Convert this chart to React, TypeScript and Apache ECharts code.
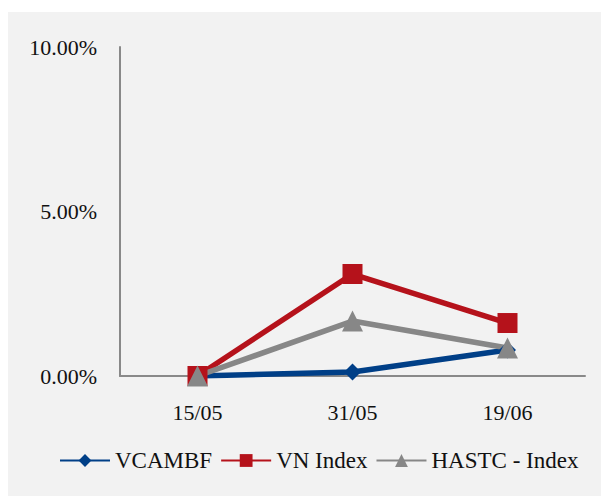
import React, { useEffect, useRef } from "react";
import * as echarts from "echarts";

const categories = ["15/05", "31/05", "19/06"];
const vcambf = [0, 0.12, 0.79];
const vnIndex = [0, 3.1, 1.61];
const hastc = [0, 1.67, 0.85];
const seriesNames = ["VCAMBF", "VN Index", "HASTC - Index"];

const FONT = "Liberation Serif";

export default function App() {
  const ref = useRef<HTMLDivElement>(null);
  useEffect(() => {
    if (!ref.current) return;
    const chart = echarts.init(ref.current, undefined, { renderer: "svg" });
    const mk = (name: string, data: number[], color: string, symbol: string, size: number) => ({
      name,
      type: "line",
      data,
      symbol,
      symbolSize: size,
      lineStyle: { color, width: 5.5 },
      itemStyle: { color },
      emphasis: { disabled: true },
    });
    chart.setOption({
      animation: false,
      backgroundColor: "#f2f2f2",
      textStyle: { fontFamily: FONT },
      grid: { left: 112, right: 16, top: 35, bottom: 120 },
      legend: {
        bottom: 19,
        left: 46,
        itemWidth: 50,
        itemHeight: 16,
        itemGap: 8,
        textStyle: { fontFamily: FONT, fontSize: 23, color: "#111" },
        data: seriesNames,
      },
      xAxis: {
        type: "category",
        data: categories,
        boundaryGap: true,
        axisLine: { lineStyle: { color: "#898989", width: 2 } },
        axisTick: { show: false },
        axisLabel: { fontFamily: FONT, fontSize: 22, color: "#111", margin: 25 },
      },
      yAxis: {
        type: "value",
        min: 0,
        max: 10,
        interval: 5,
        axisLine: { show: true, lineStyle: { color: "#898989", width: 2 } },
        axisTick: { show: false },
        splitLine: { show: false },
        axisLabel: {
          fontFamily: FONT,
          fontSize: 22,
          color: "#111",
          margin: 23,
          formatter: (v: number) => v.toFixed(2) + "%",
        },
      },
      series: [
        mk(seriesNames[0], vcambf, "#003f87", "diamond", 17),
        mk(seriesNames[1], vnIndex, "#b5121b", "rect", 20),
        mk(seriesNames[2], hastc, "#878787", "triangle", 21),
      ],
    });
    return () => chart.dispose();
  }, []);
  return (
    <div
      ref={ref}
      style={{ position: "absolute", left: 8, top: 12, width: 593, height: 484 }}
    />
  );
}
